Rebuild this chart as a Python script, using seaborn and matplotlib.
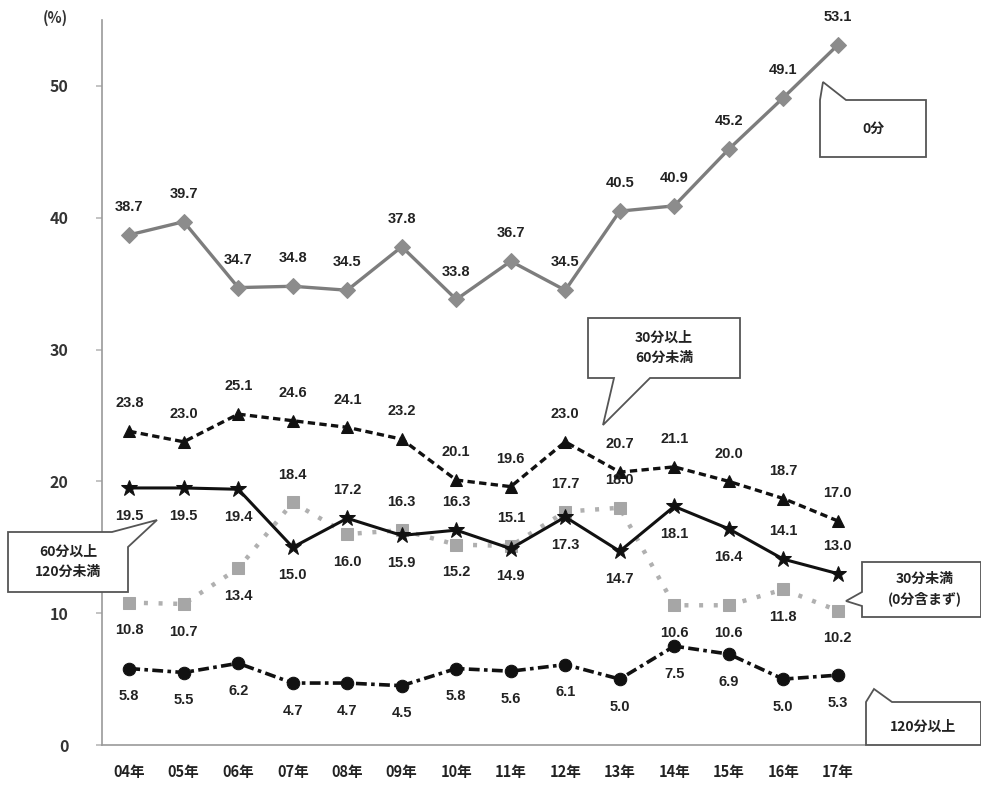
import matplotlib
matplotlib.use("Agg")
import matplotlib.pyplot as plt
from matplotlib.patches import Polygon
import seaborn as sns
import pandas as pd

years = ["04年", "05年", "06年", "07年", "08年", "09年", "10年",
         "11年", "12年", "13年", "14年", "15年", "16年", "17年"]

zero_min = [38.7, 39.7, 34.7, 34.8, 34.5, 37.8, 33.8, 36.7, 34.5, 40.5, 40.9, 45.2, 49.1, 53.1]
min30_60 = [23.8, 23.0, 25.1, 24.6, 24.1, 23.2, 20.1, 19.6, 23.0, 20.7, 21.1, 20.0, 18.7, 17.0]
min60_120 = [19.5, 19.5, 19.4, 15.0, 17.2, 15.9, 16.3, 14.9, 17.3, 14.7, 18.1, 16.4, 14.1, 13.0]
under30 = [10.8, 10.7, 13.4, 18.4, 16.0, 16.3, 15.2, 15.1, 17.7, 18.0, 10.6, 10.6, 11.8, 10.2]
over120 = [5.8, 5.5, 6.2, 4.7, 4.7, 4.5, 5.8, 5.6, 6.1, 5.0, 7.5, 6.9, 5.0, 5.3]

# label side for each point: 1 = above, -1 = below
side_60_120 = [-1, -1, -1, -1, 1, -1, 1, -1, -1, -1, -1, -1, 1, 1]
side_under30 = [-1, -1, -1, 1, -1, 1, -1, 1, 1, 1, -1, -1, -1, -1]

sns.set_theme(style="white")
plt.rcParams["font.family"] = ["Noto Sans CJK JP", "DejaVu Sans"]

W, H = 981, 787
fig = plt.figure(figsize=(W / 100, H / 100), dpi=100)
ax = fig.add_axes([102 / W, 1 - 745 / H, 763 / W, 725 / H])

x = list(range(len(years)))

series = [
    dict(vals=zero_min, color="#7d7d7d", mcolor="#8c8c8c", marker="D", ms=8.5,
         ls="-", lw=2.4, side=[1] * 14),
    dict(vals=min30_60, color="#111111", mcolor="#111111", marker="^", ms=9,
         ls=(0, (2.2, 1.3)), lw=2.4, side=[1] * 14),
    dict(vals=under30, color="#b0b0b0", mcolor="#a6a6a6", marker="s", ms=9,
         ls=(0, (0.9, 2.4)), lw=3.2, side=side_under30),
    dict(vals=min60_120, color="#111111", mcolor="#111111", marker="*", ms=12,
         ls="-", lw=2.2, side=side_60_120),
    dict(vals=over120, color="#111111", mcolor="#111111", marker="o", ms=9,
         ls=(0, (3.0, 1.2, 1.0, 1.2)), lw=2.6, side=[-1] * 14),
]

for s in series:
    df = pd.DataFrame({"x": x, "v": s["vals"]})
    sns.lineplot(data=df, x="x", y="v", ax=ax, color=s["color"], lw=s["lw"],
                 linestyle=s["ls"], marker=s["marker"], markersize=s["ms"],
                 markerfacecolor=s["mcolor"], markeredgecolor=s["mcolor"],
                 legend=False, zorder=3)
    for xi, v, sd in zip(x, s["vals"], s["side"]):
        ax.annotate(f"{v:.1f}", (xi, v), xytext=(0, 20 * sd if sd > 0 else -20),
                    textcoords="offset points", ha="center", va="center",
                    fontsize=10.5, color="#222222", fontweight="bold",
                    family=["Liberation Sans", "DejaVu Sans"], zorder=4)

ax.set_xlim(-0.5, len(years) - 0.5)
ax.set_ylim(0, 55)
ax.set_xticks([i + 0.5 for i in range(-1, len(years))], minor=False)
ax.set_xticklabels([])
ax.set_xticks(x, minor=True)
ax.set_xticklabels(years, minor=True, fontsize=10.5, fontweight="bold", color="#222222")
ax.tick_params(axis="x", which="minor", length=0, pad=14)
ax.tick_params(axis="x", which="major", length=5, direction="in", color="#999999")
ax.set_yticks([0, 10, 20, 30, 40, 50])
ax.set_yticklabels(["0", "10", "20", "30", "40", "50"], fontsize=11.5,
                   fontweight="bold", color="#333333")
ax.tick_params(axis="y", length=4, direction="out", color="#bbbbbb", pad=20, left=True)
ax.set_xlabel("")
ax.set_ylabel("")
for side in ["top", "right"]:
    ax.spines[side].set_visible(False)
for side in ["left", "bottom"]:
    ax.spines[side].set_color("#9a9a9a")
    ax.spines[side].set_linewidth(1.2)

fig.text(55 / W, 1 - 18 / H, "(%)", ha="center", va="center", fontsize=10.5,
         fontweight="bold", color="#333333")


def px(pts):
    return [(px_x / W, 1 - px_y / H) for px_x, px_y in pts]


def callout(pts, text, cx, cy):
    poly = Polygon(px(pts), closed=True, transform=fig.transFigure,
                   facecolor="white", edgecolor="#555555", lw=1.3, zorder=10)
    fig.add_artist(poly)
    fig.text(cx / W, 1 - cy / H, text, ha="center", va="center", fontsize=10,
             fontweight="bold", color="#222222", linespacing=1.5, zorder=11)


callout([(820, 157), (820, 100), (823, 82), (846, 100), (926, 100), (926, 157)],
        "0分", 873, 129)
callout([(588, 318), (740, 318), (740, 378), (650, 378), (603, 425), (614, 378),
         (588, 378)], "30分以上\n60分未満", 664, 348)
callout([(8, 532), (112, 532), (157, 520), (128, 547), (128, 592), (8, 592)],
        "60分以上\n120分未満", 68, 562)
callout([(862, 562), (981, 562), (981, 617), (862, 617), (862, 606), (846, 601),
         (862, 592)], "30分未満\n(0分含まず)", 925, 589)
callout([(866, 745), (866, 702), (874, 689), (892, 702), (981, 702), (981, 745)],
        "120分以上", 923, 727)

fig.savefig("out.png", dpi=100, facecolor="white")
